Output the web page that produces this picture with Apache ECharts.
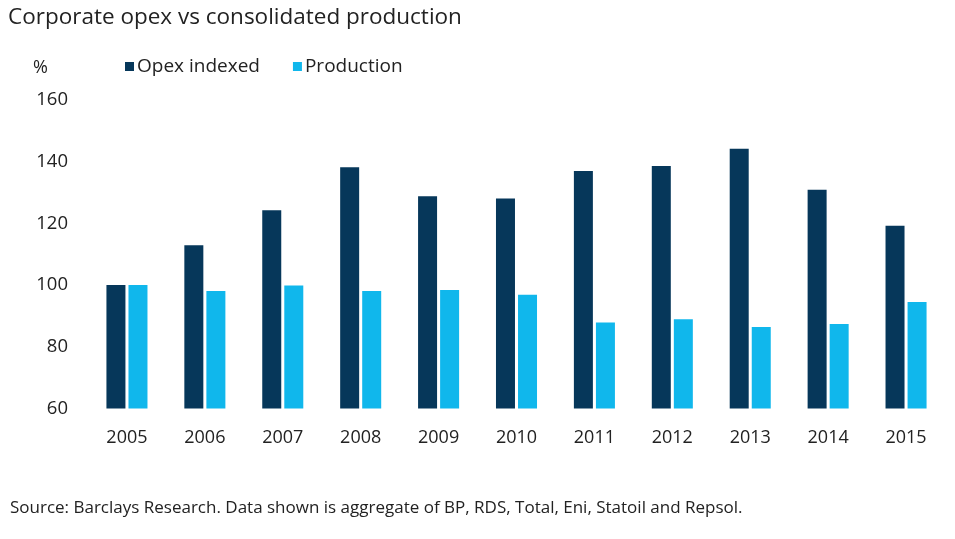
<!DOCTYPE html>
<html><head><meta charset="utf-8">
<script src="https://cdn.jsdelivr.net/npm/echarts@6/dist/echarts.min.js"></script>
<style>html,body{margin:0;padding:0;background:#fff}#c{width:955px;height:539px}</style>
</head><body><div id="c"></div>
<script>
const years = ['2005','2006','2007','2008','2009','2010','2011','2012','2013','2014','2015'];
const opexIndexed = [100, 112.9, 124.3, 138.2, 128.8, 128.1, 137, 138.6, 144.2, 130.9, 119.2];
const production = [100, 98.1, 99.9, 98.1, 98.4, 96.9, 87.9, 88.9, 86.4, 87.4, 94.5];
const yTicks = [60, 80, 100, 120, 140, 160];

const chart = echarts.init(document.getElementById('c'));
const font = 'Open Sans';
chart.setOption({
  animation: false,
  backgroundColor: '#fff',
  title: [
    {text: 'Corporate opex vs consolidated production', left: 3, top: 1,
     textStyle: {fontFamily: font, fontSize: 22.5, fontWeight: 'normal', color: '#222'}},
    {text: '%', left: 28, top: 54,
     textStyle: {fontFamily: font, fontSize: 18, fontWeight: 'normal', color: '#222'}},
    {text: 'Source: Barclays Research. Data shown is aggregate of BP, RDS, Total, Eni, Statoil and Repsol.', left: 5, top: 495,
     textStyle: {fontFamily: font, fontSize: 17, fontWeight: 'normal', color: '#222'}}
  ],
  legend: {
    left: 120, top: 52, itemWidth: 9, itemHeight: 9, itemGap: 33, icon: 'rect',
    textStyle: {fontFamily: font, fontSize: 19, color: '#222', padding: [0,0,0,-2]}
  },
  grid: {left: 88, right: 10, top: 100, bottom: 130.5},
  xAxis: {
    type: 'category', data: years,
    axisLine: {show: false}, axisTick: {show: false},
    axisLabel: {fontFamily: font, fontSize: 18, color: '#222', margin: 20}
  },
  yAxis: {
    type: 'value', min: yTicks[0], max: yTicks[yTicks.length-1], interval: 20,
    splitLine: {show: false}, axisLine: {show: false}, axisTick: {show: false},
    axisLabel: {fontFamily: font, fontSize: 18.5, color: '#222', margin: 20}
  },
  series: [
    {name: 'Opex indexed', type: 'bar', data: opexIndexed, barWidth: 19, barGap: '16%',
     itemStyle: {color: '#06375a'}},
    {name: 'Production', type: 'bar', data: production, barWidth: 19,
     itemStyle: {color: '#10b7ec'}}
  ]
});
</script></body></html>
